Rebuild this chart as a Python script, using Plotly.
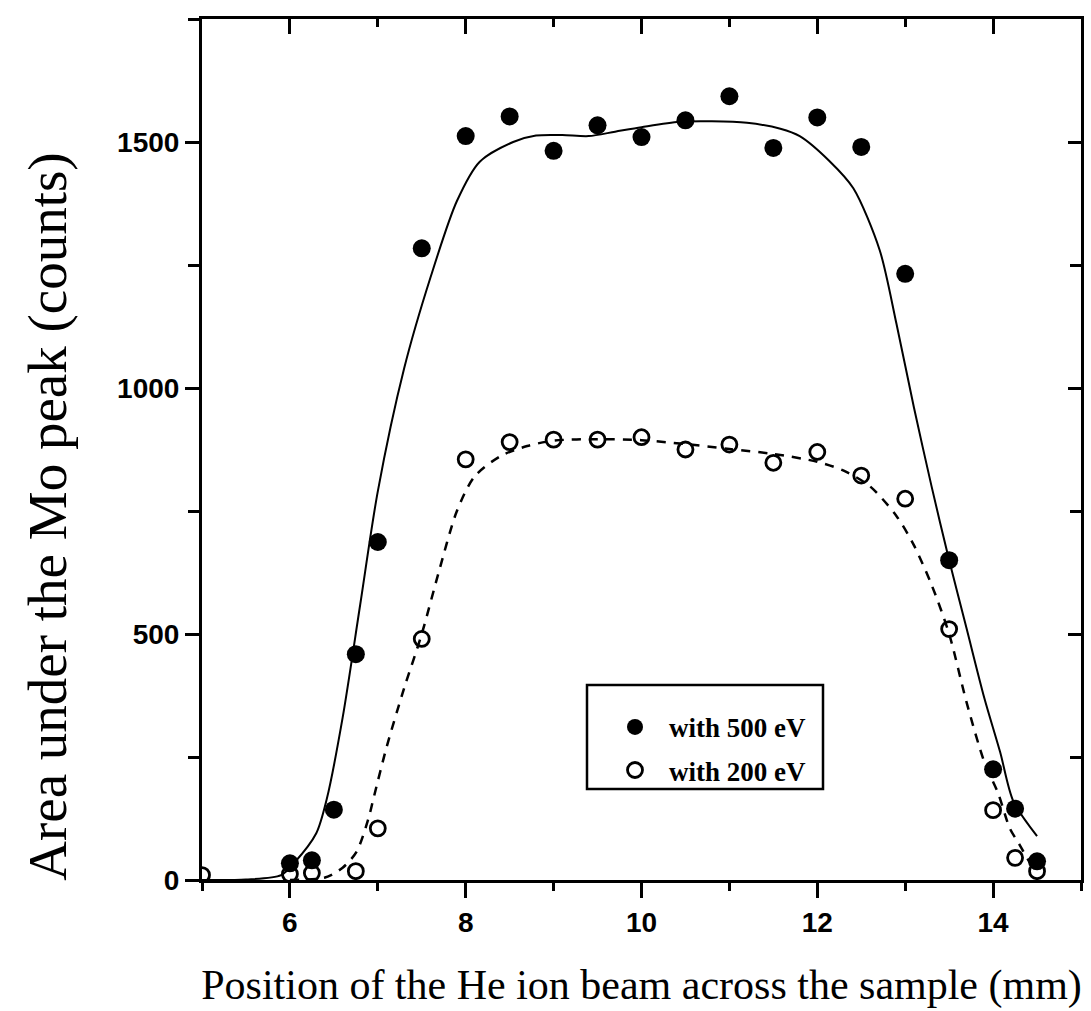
import plotly.graph_objects as go

# ---- measured points ----
pos_500 = [6.0, 6.25, 6.5, 6.75, 7.0, 7.5, 8.0, 8.5, 9.0, 9.5, 10.0, 10.5, 11.0, 11.5, 12.0, 12.5, 13.0, 13.5, 14.0, 14.25, 14.5]
area_500 = [34, 40, 143, 459, 687, 1284, 1512, 1552, 1482, 1534, 1510, 1544, 1593, 1488, 1550, 1490, 1232, 650, 225, 145, 38]

pos_200 = [5.0, 6.0, 6.25, 6.75, 7.0, 7.5, 8.0, 8.5, 9.0, 9.5, 10.0, 10.5, 11.0, 11.5, 12.0, 12.5, 13.0, 13.5, 14.0, 14.25, 14.5]
area_200 = [10, 12, 14, 18, 105, 490, 855, 890, 895, 895, 900, 875, 885, 848, 870, 822, 775, 510, 142, 45, 18]

# ---- fitted curves ----
fit500_x = [5.0, 5.5, 5.9, 6.05, 6.3, 6.42, 6.6, 6.8, 7.0, 7.3, 7.6, 7.9, 8.16, 8.54, 8.8, 9.1, 9.4, 9.7, 10.0,
            10.43, 10.8, 11.2, 11.58, 11.8, 12.14, 12.41, 12.71, 12.9, 13.1, 13.3, 13.5, 13.7, 13.9, 14.08, 14.23, 14.5]
fit500_y = [0, 1, 10, 35, 95, 165, 330, 560, 790, 1040, 1225, 1380, 1460, 1500, 1513, 1514, 1512, 1521, 1530,
            1541, 1542, 1539, 1527, 1512, 1461, 1406, 1280, 1131, 960, 800, 650, 510, 370, 260, 160, 89]

fit200_x = [6.0, 6.4, 6.6, 6.76, 6.9, 6.95, 7.1, 7.3, 7.5, 7.7, 7.9, 8.1, 8.4, 8.7, 9.0, 9.5, 10.0, 10.5, 11.0,
            11.5, 12.0, 12.3, 12.6, 12.9, 13.1, 13.3, 13.5, 13.7, 13.9, 14.06, 14.19, 14.3, 14.45]
fit200_y = [0, 5, 25, 58, 129, 165, 270, 390, 500, 630, 750, 820, 862, 882, 893, 896, 894, 886, 876,
            866, 850, 832, 800, 740, 680, 600, 500, 360, 240, 175, 105, 72, 25]

x_ticks = [6, 8, 10, 12, 14]
y_ticks = [0, 500, 1000, 1500]

x_title = "Position of the He ion beam across the sample (mm)"
y_title = "Area under the Mo peak (counts)"

fig = go.Figure()

fig.add_trace(go.Scatter(x=fit500_x, y=fit500_y, mode="lines", line=dict(color="black", width=2, shape="spline", smoothing=0.8),
                         showlegend=False, hoverinfo="skip"))
fig.add_trace(go.Scatter(x=fit200_x, y=fit200_y, mode="lines", line=dict(color="black", width=2.5, dash="9px,8px", shape="spline", smoothing=0.8),
                         showlegend=False, hoverinfo="skip"))

fig.add_trace(go.Scatter(x=pos_500, y=area_500, mode="markers", name="with 500 eV", legendgroup="a",
                         marker=dict(symbol="circle", size=18, color="black")))
fig.add_trace(go.Scatter(x=pos_200, y=area_200, mode="markers", name="with 200 eV", legendgroup="b",
                         marker=dict(symbol="circle-open", size=15, color="black", line=dict(width=2.8, color="black"))))

# invisible trace for mirrored axes
fig.add_trace(go.Scatter(x=[5, 15], y=[0, 1750], xaxis="x2", yaxis="y2", mode="markers",
                         marker=dict(opacity=0), showlegend=False, hoverinfo="skip"))

tickfont = dict(family="Liberation Sans, Arial", size=28, color="black", weight="bold")
titlefont_x = dict(family="Liberation Serif, Times New Roman", size=42, color="black")
titlefont_y = dict(family="Liberation Serif, Times New Roman", size=55, color="black")

# plot-area geometry in px for the legend box
L, R, T, B = 202, 1081, 19, 889
W, H = R - L, B - T

def px(xp):
    return (xp - L) / W

def py(yp):
    return (B - yp) / H

fig.update_layout(
    width=1091, height=1011,
    margin=dict(l=L, r=1091 - R, t=T, b=1011 - B),
    paper_bgcolor="white", plot_bgcolor="white",
    xaxis=dict(range=[5, 15], tickvals=x_ticks, ticks="outside", ticklen=15, tickwidth=2.5, tickcolor="black",
               minor=dict(dtick=1, tick0=5, ticks="outside", ticklen=8, tickwidth=2.5, tickcolor="black"),
               showline=True, linewidth=3, linecolor="black", showgrid=False, zeroline=False,
               tickfont=tickfont,
               title=dict(text=x_title, font=titlefont_x, standoff=34)),
    yaxis=dict(range=[0, 1750], tickvals=y_ticks, ticks="outside", ticklen=14, tickwidth=2.5, tickcolor="black",
               minor=dict(dtick=250, tick0=0, ticks="outside", ticklen=11, tickwidth=2.5, tickcolor="black"),
               showline=True, linewidth=3, linecolor="black", showgrid=False, zeroline=False,
               tickfont=tickfont),
    xaxis2=dict(overlaying="x", side="top", range=[5, 15], tickvals=x_ticks, ticks="inside", ticklen=15, tickwidth=2.5,
                tickcolor="black", showticklabels=False,
                minor=dict(dtick=1, tick0=5, ticks="inside", ticklen=8, tickwidth=2.5, tickcolor="black"),
                showline=True, linewidth=3, linecolor="black", showgrid=False, zeroline=False),
    yaxis2=dict(overlaying="y", side="right", range=[0, 1750], tickvals=y_ticks, ticks="inside", ticklen=13, tickwidth=2.5,
                tickcolor="black", showticklabels=False,
                minor=dict(dtick=250, tick0=0, ticks="inside", ticklen=11, tickwidth=2.5, tickcolor="black"),
                showline=True, linewidth=3, linecolor="black", showgrid=False, zeroline=False),
    legend=dict(x=px(586), y=py(710), xanchor="left", yanchor="top",
                borderwidth=0, bgcolor="rgba(0,0,0,0)",
                font=dict(family="Liberation Serif, Times New Roman", size=27, color="black", weight="bold"),
                itemwidth=58, indentation=15, tracegroupgap=5),
    showlegend=True,
    shapes=[dict(type="rect", xref="paper", yref="paper", x0=px(587), x1=px(823), y0=py(797), y1=py(692),
                 line=dict(color="black", width=2.5), fillcolor="rgba(0,0,0,0)", layer="below")],
    annotations=[dict(text=y_title, xref="paper", yref="paper", x=px(48), y=py(522), textangle=-90,
                      xanchor="center", yanchor="middle", showarrow=False, font=titlefont_y)],
)

fig.write_html("out.html")
